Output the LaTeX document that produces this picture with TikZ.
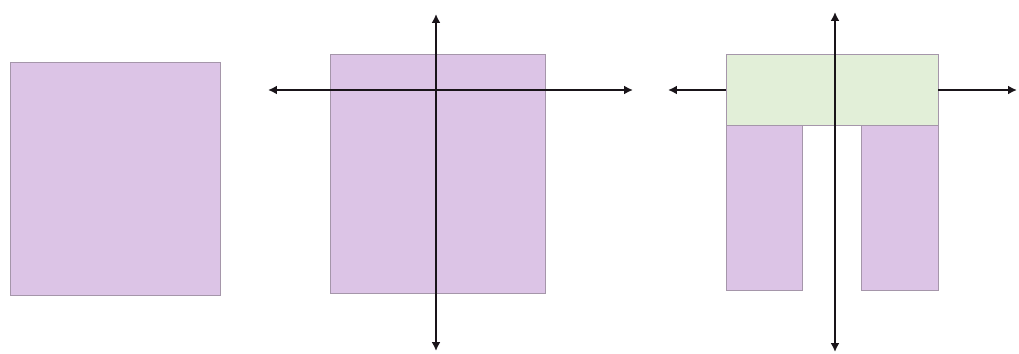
\documentclass[tikz,border=0pt]{standalone}
\usepackage{tikz}
\usetikzlibrary{arrows.meta, positioning}
\definecolor{cutpurple}{RGB}{220, 196, 230}
\definecolor{cutgreen}{RGB}{226, 239, 216}
\definecolor{cutedge}{RGB}{165, 150, 170}
\definecolor{cutaxis}{RGB}{25, 20, 25}

\begin{document}
\begin{tikzpicture}[x=0.02cm, y=-0.02cm,
    block/.style={fill=cutpurple, draw=cutedge, line width=0.5pt},
    topblock/.style={fill=cutgreen, draw=cutedge, line width=0.5pt},
    axis/.style={draw=cutaxis, line width=1.3pt, -{Latex[length=5pt,width=5pt]}}
]
\useasboundingbox (0,0) rectangle (1019,354);

% === Bloque entero ===
\draw[block] (10,62) rectangle (220,295);

% === Bloque con ejes ===
\draw[block] (330,54) rectangle (545,293);
\coordinate (h2l) at (268,90);
\coordinate (h2r) at (633,90);
\coordinate (v2t) at (436,14);
\coordinate (v2b) at (436,351);
\draw[axis, {Latex[length=5pt,width=5pt]}-{Latex[length=5pt,width=5pt]}] (h2l) -- (h2r);
\draw[axis, {Latex[length=5pt,width=5pt]}-{Latex[length=5pt,width=5pt]}] (v2t) -- (v2b);

% === Bloque partido ===
\draw[block] (726,125) rectangle (802,290);
\draw[block] (861,125) rectangle (938,290);
\draw[topblock] (726,54) rectangle (938,125);
\coordinate (h3a) at (726,90);
\coordinate (h3l) at (668,90);
\coordinate (h3b) at (938,90);
\coordinate (h3r) at (1017,90);
\coordinate (v3t) at (835,12);
\coordinate (v3b) at (835,352);
\draw[axis] (h3a) -- (h3l);
\draw[axis] (h3b) -- (h3r);
\draw[axis, {Latex[length=5pt,width=5pt]}-{Latex[length=5pt,width=5pt]}] (v3t) -- (v3b);

\end{tikzpicture}
\end{document}
